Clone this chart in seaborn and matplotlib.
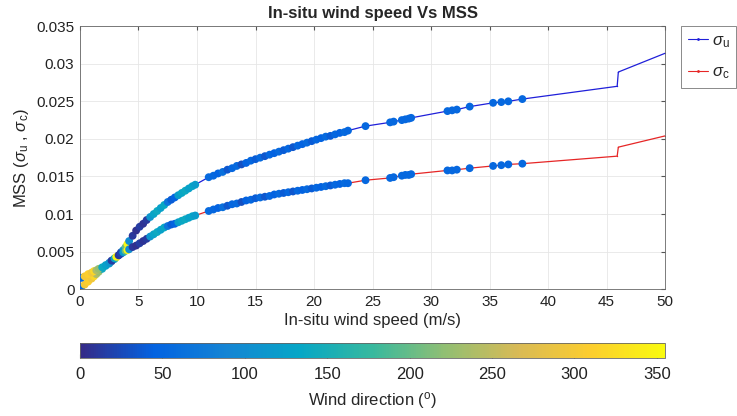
import matplotlib
matplotlib.use("Agg")
import matplotlib.pyplot as plt
from matplotlib.colors import LinearSegmentedColormap, Normalize
from matplotlib.cm import ScalarMappable
from matplotlib.lines import Line2D
import pandas as pd
import seaborn as sns

# observations: in-situ wind speed (m/s), wind direction (deg), MSS along/cross
ws = [0.1, 0.4, 0.7, 1.0, 1.2, 1.4, 1.6, 1.9, 2.2, 2.5, 2.7, 2.95, 3.1, 3.3, 3.5,
      3.7, 3.9, 4.05, 4.2, 4.5, 4.8, 5.1, 5.4, 5.7, 6.0, 6.3, 6.6, 6.9, 7.2, 7.5,
      7.8, 8.1, 8.4, 8.7, 9.0, 9.3, 9.6, 9.85,
      11.0, 11.4, 11.8, 12.2, 12.6, 13.0, 13.4, 13.8, 14.2, 14.6, 15.0, 15.4, 15.8,
      16.2, 16.6, 17.0, 17.4, 17.8, 18.2, 18.6, 19.0, 19.4, 19.8, 20.2, 20.6, 21.0,
      21.4, 21.8, 22.2, 22.6, 22.9,
      24.4, 26.5, 26.8, 27.5, 27.8, 28.1, 28.3, 31.4, 31.8, 32.2, 33.3, 35.3, 36.0,
      36.6, 37.8]
wdir = [55, 300, 310, 295, 320, 240, 225, 140, 125, 110, 15, 130, 345, 10, 20,
        120, 200, 350, 100, 10, 5, 15, 8, 12, 110, 130, 140, 125, 135, 70,
        40, 45, 120, 135, 140, 125, 130, 120,
        55, 50, 45, 60, 35, 50, 55, 30, 45, 50, 40, 55, 35,
        50, 45, 55, 40, 50, 35, 50, 45, 55, 40, 50, 45, 55,
        40, 50, 45, 55, 50,
        52, 52, 52, 52, 52, 52, 52, 52, 52, 52, 52, 52, 52,
        52, 52]
mss_u = [0.0002, 0.0006, 0.0010, 0.0014, 0.0017, 0.0020, 0.0023, 0.0027, 0.0031, 0.0034,
         0.0037, 0.0040, 0.0042, 0.0045, 0.0049, 0.0052, 0.0056, 0.0060, 0.0064, 0.0071,
         0.0078, 0.0083, 0.0087, 0.0092, 0.0096, 0.0100, 0.0104, 0.0108, 0.0112, 0.0116,
         0.0119, 0.0122, 0.0125, 0.0128, 0.0131, 0.0134, 0.0137, 0.0139,
         0.0149, 0.0151, 0.0154, 0.0156, 0.0159, 0.0161, 0.0164, 0.0166, 0.0168, 0.0171,
         0.0173, 0.0175, 0.0177, 0.0179, 0.0181, 0.0183, 0.0185, 0.0187, 0.0189, 0.0191,
         0.0193, 0.0195, 0.0197, 0.0199, 0.0201, 0.0203, 0.0204, 0.0206, 0.0208, 0.0209,
         0.0211,
         0.0217, 0.0222, 0.0223, 0.0225, 0.0226, 0.0227, 0.0228, 0.0237, 0.0238, 0.0239,
         0.0243, 0.0248, 0.0249, 0.0250, 0.0253]
mss_c = [0.0015, 0.0017, 0.0020, 0.0022, 0.0024, 0.0025, 0.0027, 0.0029, 0.0032, 0.0035,
         0.0038, 0.0041, 0.0043, 0.0045, 0.0047, 0.0049, 0.0051, 0.0052, 0.0053, 0.0056,
         0.0058, 0.0061, 0.0064, 0.0067, 0.0070, 0.0073, 0.0076, 0.0079, 0.0082, 0.0084,
         0.0086, 0.0087, 0.0089, 0.0091, 0.0093, 0.0095, 0.0097, 0.0098,
         0.0104, 0.0106, 0.0108, 0.0109, 0.0111, 0.0113, 0.0114, 0.0116, 0.0118, 0.0119,
         0.0121, 0.0122, 0.0123, 0.0124, 0.0126, 0.0127, 0.0128, 0.0129, 0.0130, 0.0131,
         0.0132, 0.0133, 0.0134, 0.0135, 0.0136, 0.0137, 0.0138, 0.0139, 0.0140, 0.0141,
         0.0141,
         0.0145, 0.0148, 0.0149, 0.0151, 0.0152, 0.0152, 0.0153, 0.0158, 0.0158, 0.0159,
         0.0161, 0.0164, 0.0165, 0.0166, 0.0167]

# model line continues past the last observation
tail_ws = [45.9, 46.0, 50.0]
tail_u = [0.0270, 0.0289, 0.0314]
tail_c = [0.0177, 0.0189, 0.0204]

xticks = [0, 5, 10, 15, 20, 25, 30, 35, 40, 45, 50]
yticks = [0, 0.005, 0.01, 0.015, 0.02, 0.025, 0.03, 0.035]
ytick_labels = ["0", "0.005", "0.01", "0.015", "0.02", "0.025", "0.03", "0.035"]
cticks = [0, 50, 100, 150, 200, 250, 300, 350]

# parula-like colormap
parula = LinearSegmentedColormap.from_list("parula", [
    (0.2081, 0.1663, 0.5292), (0.0117, 0.3875, 0.8820), (0.0793, 0.5200, 0.8312),
    (0.0228, 0.6535, 0.7768), (0.2178, 0.7250, 0.6193), (0.5709, 0.7485, 0.4494),
    (0.8507, 0.7299, 0.3360), (0.9880, 0.8066, 0.1794), (0.9763, 0.9831, 0.0538)])
norm = Normalize(0, 355)

sns.set_style("whitegrid")
plt.rcParams["font.family"] = ["Liberation Sans", "DejaVu Sans"]
plt.rcParams["mathtext.fontset"] = "custom"
plt.rcParams["mathtext.rm"] = "Liberation Sans"
plt.rcParams["mathtext.it"] = "Liberation Sans:italic"

df = pd.DataFrame({"ws": ws, "wdir": wdir, "u": mss_u, "c": mss_c})
line_df = pd.DataFrame({"ws": ws + tail_ws, "u": mss_u + tail_u, "c": mss_c + tail_c})

fig = plt.figure(figsize=(7.37, 4.16), dpi=100)
ax = fig.add_axes([0.1085, 0.305, 0.794, 0.632])
cax = fig.add_axes([0.1085, 0.139, 0.794, 0.036])

blue = (0.12, 0.12, 0.85)
red = (0.9, 0.15, 0.15)
sns.lineplot(data=line_df, x="ws", y="u", color=blue, lw=0.9, marker=".", ms=2,
             mew=0, estimator=None, ax=ax)
sns.lineplot(data=line_df, x="ws", y="c", color=red, lw=0.9, marker=".", ms=2,
             mew=0, estimator=None, ax=ax)
sns.scatterplot(data=df, x="ws", y="u", hue="wdir", palette=parula, hue_norm=norm,
                s=32, linewidth=0, legend=False, ax=ax, zorder=3)
sns.scatterplot(data=df, x="ws", y="c", hue="wdir", palette=parula, hue_norm=norm,
                s=32, linewidth=0, legend=False, ax=ax, zorder=3)

ax.set_xlim(0, 50)
ax.set_ylim(0, 0.035)
ax.set_xticks(xticks)
ax.set_yticks(yticks)
ax.set_yticklabels(ytick_labels)
ax.tick_params(direction="in", length=3, top=True, right=True, labelsize=11,
               color="#555555", labelcolor="#222222", pad=4)
ax.grid(True, color="#e6e6e6", lw=0.6)
for s in ax.spines.values():
    s.set_color("#666666")
    s.set_linewidth(0.6)
ax.set_title("In-situ wind speed Vs MSS", fontsize=12, fontweight="bold", pad=6)
ax.set_xlabel("In-situ wind speed (m/s)", fontsize=12, labelpad=3)
ax.set_ylabel(r"MSS ($\sigma_{\rm u}$ , $\sigma_{\rm c}$)", fontsize=12, labelpad=4)

handles = [Line2D([], [], color=blue, lw=0.8, marker=".", ms=2),
           Line2D([], [], color=red, lw=0.8, marker=".", ms=2)]
leg = ax.legend(handles, [r"$\sigma_{\rm u}$", r"$\sigma_{\rm c}$"], loc="upper left",
                bbox_to_anchor=(1.027, 1.0), fontsize=12, fancybox=False,
                framealpha=1, edgecolor="#777777", handlelength=1.2,
                handletextpad=0.25, borderpad=0.4, borderaxespad=0,
                labelspacing=0.9)
leg.get_frame().set_linewidth(0.6)

cb = fig.colorbar(ScalarMappable(norm=norm, cmap=parula), cax=cax,
                  orientation="horizontal")
cb.set_ticks(cticks)
cb.ax.tick_params(direction="in", length=3, labelsize=12, color="#555555",
                  labelcolor="#222222", pad=6)
cb.outline.set_edgecolor("#666666")
cb.outline.set_linewidth(0.6)
cb.set_label(r"Wind direction ($^{\rm o}$)", fontsize=12, labelpad=6)

fig.savefig("out.png", dpi=100)
